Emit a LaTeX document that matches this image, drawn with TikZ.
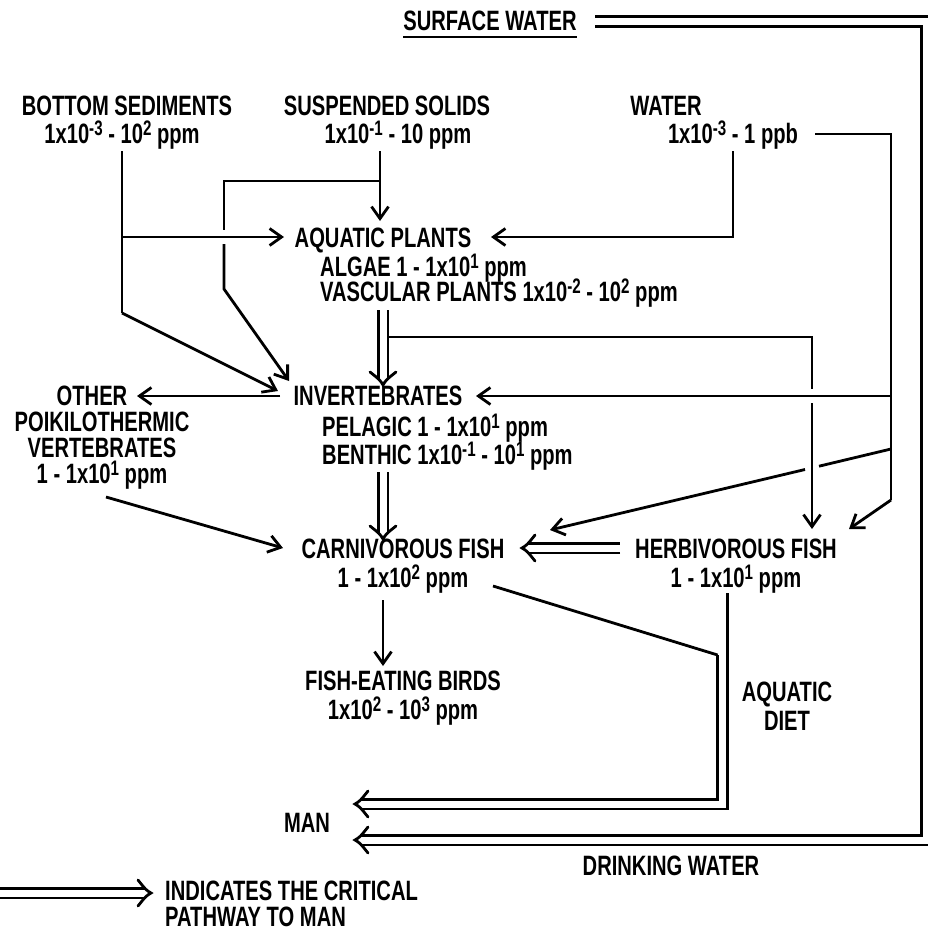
\documentclass[tikz,border=0pt]{standalone}
\usepackage{fontspec}
\setmainfont{Liberation Sans}[FakeStretch=0.72]
\usetikzlibrary{arrows.meta}
\newcommand\su[1]{\raisebox{8pt}{\fontsize{21}{21}\selectfont #1}}
\begin{document}
\begin{tikzpicture}[x=1pt,y=-1pt,
  txt/.style={font=\fontsize{28}{28.5}\selectfont\bfseries, inner sep=0pt, anchor=base},
  txtl/.style={txt, anchor=base west},
  tight/.style={font=\fontsize{28}{26}\selectfont\bfseries},
  ln/.style={line width=2.8pt, line join=miter},
  arr/.style={ln, -{Straight Barb[length=12pt,width=17pt]}},
  crit/.style={line width=2.8pt, double, double distance=7pt, line join=miter, shorten >=5pt},
  ihead/.pic={\draw[line width=2.8pt, line cap=round] (13,-13) .. controls (5,-3) .. (0,0) .. controls (5,3) .. (13,13);}]
\useasboundingbox (0,0) rectangle (927,932);

% ---------- texts (multi-line nodes: base = last line) ----------
\node[txt] (sw) at (490,30) {SURFACE WATER};
\node[txt] (bs1) at (127,115) {BOTTOM SEDIMENTS};
\node[txt] (bs2) at (122,143) {1x10\su{-3} - 10\su{2} ppm};
\node[txt] (ss1) at (387,115) {SUSPENDED SOLIDS};
\node[txt] (ss2) at (398,143) {1x10\su{-1} - 10 ppm};
\node[txt] (w1) at (666,115) {WATER};
\node[txt] (w2) at (733,143) {1x10\su{-3} - 1 ppb};
\node[txt] (ap) at (383,247) {AQUATIC PLANTS};
\node[txtl] (alg) at (320,276) {ALGAE 1 - 1x10\su{1} ppm};
\node[txtl] (vas) at (320,301) {VASCULAR PLANTS 1x10\su{-2} - 10\su{2} ppm};
\node[txt] (inv) at (378,405) {INVERTEBRATES};
\node[txtl] (pel) at (322,436) {PELAGIC 1 - 1x10\su{1} ppm};
\node[txtl] (ben) at (322,464) {BENTHIC 1x10\su{-1} - 10\su{1} ppm};
\node[txt] (oth) at (92,405) {OTHER};
\node[txt, tight, align=center] (poi) at (102,483) {POIKILOTHERMIC\\VERTEBRATES\\1 - 1x10\su{1} ppm};
\node[txt, align=center] (cf) at (403,587) {CARNIVOROUS FISH\\1 - 1x10\su{2} ppm};
\node[txt, align=center] (hf) at (736,587) {HERBIVOROUS FISH\\1 - 1x10\su{1} ppm};
\node[txt, align=center] (feb) at (403,719) {FISH-EATING BIRDS\\1x10\su{2} - 10\su{3} ppm};
\node[txt, align=center] (aq) at (787,730) {AQUATIC\\DIET};
\node[txt] (man) at (307,832) {MAN};
\node[txt] (dw) at (671,875) {DRINKING WATER};
\node[txtl, tight, align=left] (lg) at (165,926) {INDICATES THE CRITICAL\\PATHWAY TO MAN};

\draw[ln] ([yshift=-7pt]sw.base west) -- ([yshift=-7pt]sw.base east);

% ---------- coordinates ----------
\coordinate (bsA) at (122,151);
\coordinate (bsB) at (122,313);
\coordinate (bsH) at (122,237);
\coordinate (apL) at (284,237);
\coordinate (invT1) at (278,391);
\coordinate (ssA) at (380,151);
\coordinate (apT) at (380,221);
\coordinate (ssJ) at (380,181);
\coordinate (ssC) at (224,181);
\coordinate (ssD1) at (224,230);
\coordinate (ssD2) at (224,244);
\coordinate (ssE) at (224,289);
\coordinate (invT2) at (289,381);
\coordinate (wA) at (733,151);
\coordinate (wB) at (733,237);
\coordinate (apR) at (491,237);
\coordinate (pA) at (815,134);
\coordinate (pB) at (891,134);
\coordinate (pC) at (891,500);
\coordinate (hfT2) at (849,529);
\coordinate (pI) at (891,396);
\coordinate (invR) at (476,396);
\coordinate (pD) at (891,449);
\coordinate (pD1) at (819,466.2);
\coordinate (pD2) at (805,469.5);
\coordinate (cfT) at (550,530);
\coordinate (vA) at (383,310);
\coordinate (vB) at (383,385);
\coordinate (vbA) at (387,337);
\coordinate (vbB) at (812,337);
\coordinate (vbC) at (812,389);
\coordinate (vbD) at (812,403);
\coordinate (hfT1) at (812,529);
\coordinate (invL) at (280,396);
\coordinate (othR) at (137,396);
\coordinate (iA) at (383,472);
\coordinate (iB) at (383,539);
\coordinate (pvA) at (106,497);
\coordinate (cfL) at (283,548);
\coordinate (hfL) at (620,548);
\coordinate (cfR) at (522,548);
\coordinate (cbA) at (383,600);
\coordinate (cbB) at (383,666);
\coordinate (adA) at (493,586);
\coordinate (adB) at (717.6,655);
\coordinate (adC) at (722.5,655);
\coordinate (adD) at (722.5,804);
\coordinate (manA) at (355,804);
\coordinate (hfA) at (727.4,593);
\coordinate (hfB) at (727.4,655);
\coordinate (swA) at (595,21.5);
\coordinate (swB) at (926,21.5);
\coordinate (swC) at (926,840);
\coordinate (manB) at (355,840);
\coordinate (lgA) at (0,893);
\coordinate (lgB) at (151,893);

% ---------- connectors ----------
\draw[ln] (bsA) -- (bsB);
\draw[arr] (bsB) -- (invT1);
\draw[arr] (bsH) -- (apL);
\draw[arr] (ssA) -- (apT);
\draw[ln] (ssJ) -- (ssC) -- (ssD1);
\draw[arr] (ssD2) -- (ssE) -- (invT2);
\draw[arr] (wA) -- (wB) -- (apR);
\draw[ln] (pA) -- (pB) -- (pC);
\draw[arr] (pC) -- (hfT2);
\draw[arr] (pI) -- (invR);
\draw[ln] (pD) -- (pD1);
\draw[arr] (pD2) -- (cfT);
\draw[crit] (vA) -- (vB);
\pic[rotate=90] at (vB) {ihead};
\draw[ln] (vbA) -- (vbB) -- (vbC);
\draw[arr] (vbD) -- (hfT1);
\draw[arr] (invL) -- (othR);
\draw[crit] (iA) -- (iB);
\pic[rotate=90] at (iB) {ihead};
\draw[arr] (pvA) -- (cfL);
\draw[crit] (hfL) -- (cfR);
\pic at (cfR) {ihead};
\draw[arr] (cbA) -- (cbB);
\draw[ln] (adA) -- (adB);
\draw[ln] (hfA) -- (hfB);
\draw[crit] (adC) -- (adD) -- (manA);
\pic at (manA) {ihead};
\draw[crit] (swA) -- (swB) -- (swC) -- (manB);
\pic at (manB) {ihead};
\draw[crit] (lgA) -- (lgB);
\pic[rotate=180] at (lgB) {ihead};
\end{tikzpicture}
\end{document}
